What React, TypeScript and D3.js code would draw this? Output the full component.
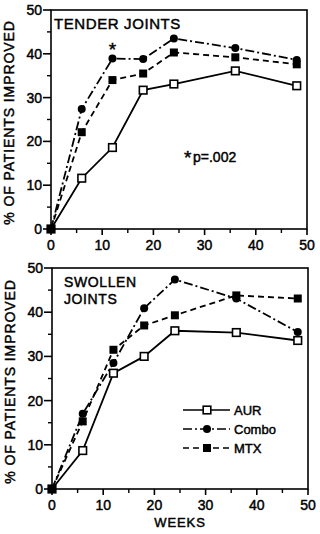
import React from "react";
import * as d3 from "d3";

const weeks = [0, 6, 12, 18, 24, 36, 48];
const tenderAUR = [0, 11.6, 18.6, 31.7, 33.1, 36.1, 32.7];
const tenderCombo = [0, 27.4, 38.9, 38.8, 43.5, 41.3, 38.6];
const tenderMTX = [0, 22.1, 34.0, 35.5, 40.3, 39.2, 37.6];
const swollenAUR = [0, 8.7, 26.2, 30.0, 35.8, 35.4, 33.6];
const swollenCombo = [0, 17.0, 28.5, 40.9, 47.4, 43.1, 35.5];
const swollenMTX = [0, 15.3, 31.5, 37.0, 39.3, 43.8, 43.1];
const xTicks = [0, 10, 20, 30, 40, 50];
const xMinor = [5, 15, 25, 35, 45];
const yTicks = [0, 10, 20, 30, 40, 50];
const yMinor = [5, 15, 25, 35, 45];
const seriesNames = ["AUR", "Combo", "MTX"];

const FONT = "'Liberation Sans', Arial, sans-serif";
const TS = { stroke: "#000", strokeWidth: 0.45 };

type Series = { name: string; values: number[] };

const styles: Record<string, { dash: string; marker: string }> = {
  AUR: { dash: "none", marker: "openSquare" },
  Combo: { dash: "9,3,2,3", marker: "circle" },
  MTX: { dash: "6,4", marker: "filledSquare" },
};

function Marker({ kind, x, y }: { kind: string; x: number; y: number }) {
  if (kind === "openSquare")
    return <rect x={x - 3.8} y={y - 3.8} width={7.6} height={7.6} fill="#fff" stroke="#000" strokeWidth={1.6} />;
  if (kind === "filledSquare")
    return <rect x={x - 4} y={y - 4} width={8} height={8} fill="#000" />;
  return <circle cx={x} cy={y} r={4} fill="#000" />;
}

function Panel({
  x0, x1, y0, y1, series, showWeeks, title, legend, extras,
}: {
  x0: number; x1: number; y0: number; y1: number; series: Series[];
  showWeeks?: boolean; title: string[]; legend?: boolean; extras?: (xs: any, ys: any) => React.ReactNode;
}) {
  const xs = d3.scaleLinear().domain([0, 50]).range([x0, x1]);
  const ys = d3.scaleLinear().domain([0, 50]).range([y0, y1]);
  const line = d3.line<number>().x((_, i) => xs(weeks[i])).y((d) => ys(d));
  const order = ["AUR", "MTX", "Combo"];
  return (
    <g>
      <rect x={x0} y={y1} width={x1 - x0} height={y0 - y1} fill="none" stroke="#000" strokeWidth={1.6} />
      {yTicks.map((t) => (
        <g key={"y" + t}>
          <line x1={x0 - 8} x2={x0} y1={ys(t)} y2={ys(t)} stroke="#000" strokeWidth={1.6} />
          <text x={x0 - 9} y={ys(t)} dy="0.36em" textAnchor="end" fontSize={14} fontFamily={FONT} {...TS}>{t}</text>
        </g>
      ))}
      {yMinor.map((t) => (
        <line key={"ym" + t} x1={x0 - 4} x2={x0} y1={ys(t)} y2={ys(t)} stroke="#000" strokeWidth={1.4} />
      ))}
      {xTicks.map((t) => (
        <g key={"x" + t}>
          <line x1={xs(t)} x2={xs(t)} y1={y0} y2={y0 + 6} stroke="#000" strokeWidth={1.6} />
          <text x={xs(t)} y={y0 + 21} textAnchor="middle" fontSize={14} fontFamily={FONT} {...TS}>{t}</text>
        </g>
      ))}
      {xMinor.map((t) => (
        <line key={"xm" + t} x1={xs(t)} x2={xs(t)} y1={y0} y2={y0 + 4} stroke="#000" strokeWidth={1.4} />
      ))}
      <text
        transform={`translate(${x0 - 37},${(y0 + y1) / 2 + 3}) rotate(-90)`}
        textAnchor="middle" fontSize={14} fontFamily={FONT} letterSpacing={0.9} {...TS}
      >% OF PATIENTS IMPROVED</text>
      {title.map((t, i) => (
        <text key={t} x={x0 + (title.length > 1 ? 12 : 3)} y={y1 + 19 + i * 17} fontSize={title.length > 1 ? 14 : 15} fontFamily={FONT} letterSpacing={0.6} {...TS}>{t}</text>
      ))}
      {order.map((name) => {
        const s = series.find((d) => d.name === name)!;
        return (
          <path key={name} d={line(s.values) || ""} fill="none" stroke="#000" strokeWidth={1.8} strokeDasharray={styles[name].dash} />
        );
      })}
      {order.map((name) => {
        const s = series.find((d) => d.name === name)!;
        return s.values.map((v, i) => (
          <Marker key={name + i} kind={styles[name].marker} x={xs(weeks[i])} y={ys(v)} />
        ));
      })}
      {legend &&
        seriesNames.map((n, i) => {
          const ly = 410 + i * 19;
          return (
            <g key={"lg" + n}>
              <line x1={183} x2={230} y1={ly} y2={ly} stroke="#000" strokeWidth={1.6} strokeDasharray={styles[n].dash} />
              <Marker kind={styles[n].marker} x={207} y={ly} />
              <text x={234} y={ly} dy="0.36em" fontSize={13} fontFamily={FONT} {...TS}>{n}</text>
            </g>
          );
        })}
      {showWeeks && (
        <text x={(x0 + x1) / 2} y={y0 + 38} textAnchor="middle" fontSize={13} fontFamily={FONT} letterSpacing={0.9} {...TS}>WEEKS</text>
      )}
      {extras && extras(xs, ys)}
    </g>
  );
}

export default function App() {
  const tender: Series[] = [
    { name: "AUR", values: tenderAUR },
    { name: "Combo", values: tenderCombo },
    { name: "MTX", values: tenderMTX },
  ];
  const swollen: Series[] = [
    { name: "AUR", values: swollenAUR },
    { name: "Combo", values: swollenCombo },
    { name: "MTX", values: swollenMTX },
  ];
  return (
    <div style={{ position: "absolute", left: 0, top: 0 }}>
      <svg width={320} height={534} style={{ display: "block", background: "#fff" }}>
        <Panel
          x0={51} x1={307} y0={229} y1={10} series={tender} title={["TENDER JOINTS"]}
          extras={(xs, ys) => (
            <g fontFamily={FONT} {...TS}>
              <text x={xs(12)} y={ys(tenderCombo[2]) - 3} textAnchor="middle" fontSize={19}>*</text>
              <text x={184} y={164} fontSize={19}>*</text>
              <text x={193} y={162} fontSize={14}>p=.002</text>
            </g>
          )}
        />
        <Panel
          x0={52} x1={308} y0={489} y1={268} series={swollen} title={["SWOLLEN", "JOINTS"]}
          legend showWeeks
        />
      </svg>
    </div>
  );
}
